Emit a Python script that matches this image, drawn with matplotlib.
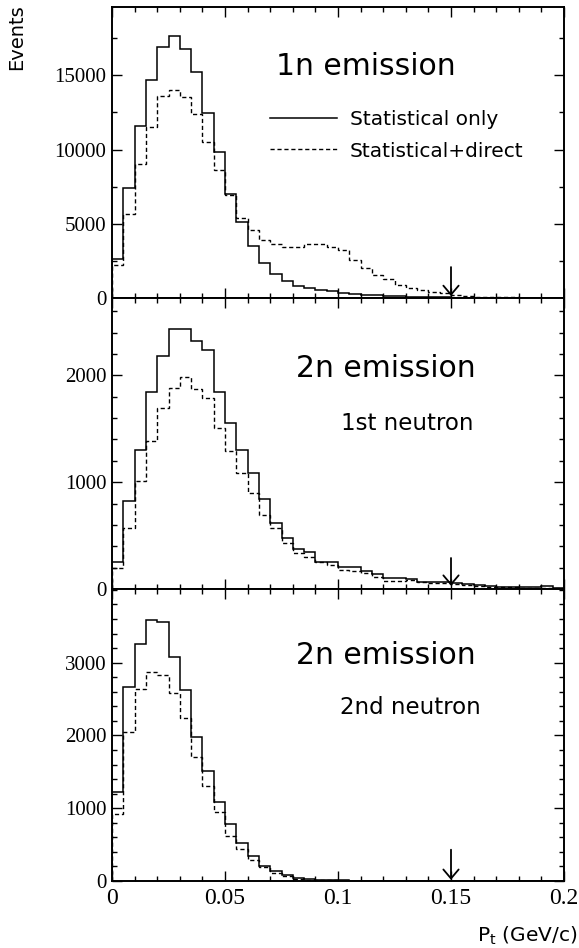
import numpy as np
import matplotlib
matplotlib.use("Agg")
import matplotlib.pyplot as plt
from matplotlib.ticker import MultipleLocator

# Transverse momentum bins: 40 bins of 5 MeV/c from 0 to 0.2 GeV/c
pt_edges = np.linspace(0.0, 0.2, 41)

# 1n emission
one_n_stat = [2670, 7420, 11590, 14700, 16900, 17620, 16770, 15200, 12460, 9840,
              7000, 5140, 3510, 2390, 1620, 1170, 860, 690, 590, 480,
              380, 310, 240, 210, 170, 130, 110, 90, 70, 55,
              45, 35, 25, 20, 15, 10, 8, 5, 5, 3]
one_n_direct = [2220, 5690, 9060, 11520, 13580, 14030, 13540, 12370, 10510, 8610,
                6950, 5430, 4570, 3900, 3680, 3460, 3440, 3650, 3650, 3450,
                3280, 2580, 2050, 1550, 1300, 920, 680, 530, 420, 330,
                240, 175, 120, 95, 70, 55, 40, 30, 20, 15]

# 2n emission, 1st neutron
two_n_first_stat = [255, 825, 1300, 1845, 2180, 2436, 2430, 2320, 2234, 1845,
                    1549, 1300, 1087, 841, 622, 477, 371, 342, 252, 248,
                    203, 203, 165, 140, 102, 100, 98, 70, 65, 62,
                    56, 47, 40, 25, 22, 22, 16, 16, 28, 8]
two_n_first_direct = [193, 567, 1009, 1383, 1695, 1881, 1984, 1869, 1788, 1507,
                      1290, 1087, 894, 692, 572, 433, 338, 299, 248, 220,
                      178, 172, 147, 115, 78, 78, 82, 66, 60, 56,
                      47, 40, 28, 22, 22, 22, 12, 12, 12, 6]

# 2n emission, 2nd neutron
two_n_second_stat = [1225, 2665, 3260, 3590, 3557, 3077, 2630, 1980, 1509, 1088,
                     778, 517, 338, 205, 141, 82, 45, 25, 14, 9,
                     7, 5, 4, 3, 2, 2, 1, 1, 1, 0,
                     0, 0, 0, 0, 0, 0, 0, 0, 0, 0]
two_n_second_direct = [915, 2048, 2643, 2871, 2826, 2588, 2240, 1705, 1303, 951,
                       621, 435, 286, 189, 116, 62, 32, 20, 10, 7,
                       5, 4, 3, 2, 2, 1, 1, 0, 0, 0,
                       0, 0, 0, 0, 0, 0, 0, 0, 0, 0]

panel_titles = ["1n emission", "2n emission", "2n emission"]
panel_subtitles = [None, "1st neutron", "2nd neutron"]
legend_labels = ["Statistical only", "Statistical+direct"]
y_limits = [19590, 2720, 4012]
y_tick_values = [[0, 5000, 10000, 15000], [0, 1000, 2000], [0, 1000, 2000, 3000]]
y_minor = [2500, 200, 200]
x_tick_values = [0, 0.05, 0.1, 0.15, 0.2]
x_tick_labels = ["0", "0.05", "0.1", "0.15", "0.2"]
pt_cut = 0.15
arrow_top = [2100, 290, 430]
arrow_tip = [150, 30, 15]

series = [(one_n_stat, one_n_direct),
          (two_n_first_stat, two_n_first_direct),
          (two_n_second_stat, two_n_second_direct)]

W, H = 579, 948
fig = plt.figure(figsize=(W / 100, H / 100), dpi=100)

left_px, right_px = 112, 564
panel_px = [(7, 298.3), (298.3, 589), (589, 881)]

label_font = "DejaVu Sans"
tick_font = "Liberation Serif"

axes = []
for i, (top, bottom) in enumerate(panel_px):
    ax = fig.add_axes([left_px / W, 1 - bottom / H,
                       (right_px - left_px) / W, (bottom - top) / H])
    axes.append(ax)
    stat, direct = series[i]
    ax.stairs(stat, pt_edges, color="black", lw=1.1, baseline=0)
    ax.stairs(direct, pt_edges, color="black", lw=1.0, linestyle=(0, (3, 2)),
              baseline=0)

    yt = y_tick_values[i]
    ax.set_yticks(yt, [f"{int(t)}" for t in yt], fontfamily=tick_font,
                  fontsize=15)
    ax.yaxis.set_minor_locator(MultipleLocator(y_minor[i]))
    if i < 2:
        ax.set_xticks(x_tick_values, [""] * len(x_tick_values))
    else:
        ax.set_xticks(x_tick_values, x_tick_labels, fontfamily=tick_font,
                      fontsize=17)
    ax.xaxis.set_minor_locator(MultipleLocator(0.01))
    ax.set_xlim(0, 0.2)
    ax.set_ylim(0, y_limits[i])

    ax.tick_params(which="both", direction="in", top=True, right=True,
                   width=1.0, pad=4)
    ax.tick_params(which="major", length=7.2)
    ax.tick_params(which="minor", length=3.6)
    ax.tick_params(axis="x", pad=5)
    for sp in ax.spines.values():
        sp.set_linewidth(1.4)

    ax.annotate("", xy=(pt_cut, arrow_tip[i]), xytext=(pt_cut, arrow_top[i]),
                arrowprops=dict(arrowstyle="->,head_length=0.65,head_width=0.55",
                                color="black", lw=1.3, shrinkA=0, shrinkB=0,
                                mutation_scale=10))

# Panel titles
axes[0].text(0.562, 0.7666, panel_titles[0], transform=axes[0].transAxes,
             ha="center", va="baseline", fontsize=21.5, fontfamily=label_font)
axes[1].text(0.605, 0.7293, panel_titles[1], transform=axes[1].transAxes,
             ha="center", va="baseline", fontsize=21.5, fontfamily=label_font)
axes[1].text(0.6537, 0.547, panel_subtitles[1], transform=axes[1].transAxes,
             ha="center", va="baseline", fontsize=16.5, fontfamily=label_font)
axes[2].text(0.605, 0.742, panel_titles[2], transform=axes[2].transAxes,
             ha="center", va="baseline", fontsize=21.5, fontfamily=label_font)
axes[2].text(0.660, 0.571, panel_subtitles[2], transform=axes[2].transAxes,
             ha="center", va="baseline", fontsize=16.5, fontfamily=label_font)

# Legend in the top panel
ax0 = axes[0]
ax0.plot([0.3496, 0.4978], [0.618, 0.618], color="black", lw=1.1,
         transform=ax0.transAxes)
ax0.plot([0.3496, 0.4978], [0.5125, 0.5125], color="black", lw=1.0,
         linestyle=(0, (3, 2)), transform=ax0.transAxes)
ax0.text(0.5265, 0.5966, legend_labels[0], transform=ax0.transAxes,
         ha="left", va="baseline", fontsize=14.5, fontfamily=label_font)
ax0.text(0.5265, 0.485, legend_labels[1], transform=ax0.transAxes,
         ha="left", va="baseline", fontsize=14.5, fontfamily=label_font)

# Axis titles
fig.text(17 / W, 1 - 4 / H, "Events", rotation=90, ha="center", va="top",
         fontsize=14, fontfamily=label_font)
fig.text(577 / W, 1 - 942 / H, r"P$_\mathregular{t}$ (GeV/c)", ha="right",
         va="baseline", fontsize=14.5, fontfamily=label_font)

fig.savefig("out.png", dpi=100)
